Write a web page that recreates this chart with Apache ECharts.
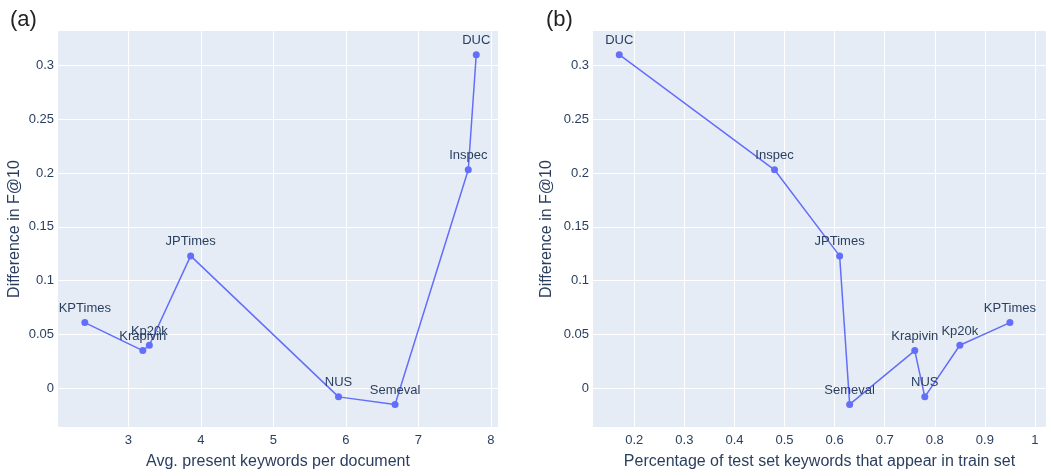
<!DOCTYPE html>
<html>
<head>
<meta charset="utf-8">
<script src="https://cdn.jsdelivr.net/npm/echarts@6/dist/echarts.min.js"></script>
<style>
html,body{margin:0;padding:0;background:#fff;}
#c{width:1051px;height:476px;}
</style>
</head>
<body>
<div id="c"></div>
<script>
// Data (sorted by percentage for panel b)
const datasets   = ['DUC', 'Inspec', 'JPTimes', 'Semeval', 'Krapivin', 'NUS', 'Kp20k', 'KPTimes'];
const diffF10    = [0.310, 0.203, 0.123, -0.015, 0.035, -0.008, 0.040, 0.061];
const avgPresent = [7.80, 7.69, 3.86, 6.68, 3.20, 5.90, 3.29, 2.40];
const pctInTrain = [0.17, 0.48, 0.61, 0.63, 0.76, 0.78, 0.85, 0.95];

const yTicks  = [0, 0.05, 0.1, 0.15, 0.2, 0.25, 0.3];
const xTicksA = [3, 4, 5, 6, 7, 8];
const xTicksB = [0.2, 0.3, 0.4, 0.5, 0.6, 0.7, 0.8, 0.9, 1];

const FONT = 'Liberation Sans, Arial, sans-serif';
const TXT = '#2a3f5f';
const LINE = '#636efa';

function pts(xs) {
  const arr = datasets.map((n, i) => ({ name: n, value: [xs[i], diffF10[i]] }));
  arr.sort((a, b) => a.value[0] - b.value[0]);
  return arr;
}
const fmt = v => String(Math.round(v * 1000) / 1000);

function xAxis(idx, min, max, ticks, name) {
  return {
    type: 'value', gridIndex: idx, min: min, max: max,
    name: name, nameLocation: 'middle', nameGap: 27,
    nameTextStyle: { color: TXT, fontSize: 16, fontFamily: FONT },
    axisLine: { show: false }, axisTick: { show: false, customValues: ticks },
    axisLabel: { customValues: ticks, color: TXT, fontSize: 13, fontFamily: FONT, margin: 7, formatter: fmt },
    splitLine: { show: true, lineStyle: { color: '#ffffff', width: 1 } }
  };
}
function yAxis(idx, gap) {
  return {
    type: 'value', gridIndex: idx, min: -0.036, max: 0.332,
    name: 'Difference in F@10', nameLocation: 'middle', nameGap: gap,
    nameTextStyle: { color: TXT, fontSize: 16, fontFamily: FONT },
    axisLine: { show: false }, axisTick: { show: false, customValues: yTicks },
    axisLabel: { customValues: yTicks, color: TXT, fontSize: 13, fontFamily: FONT, margin: 4, formatter: fmt },
    splitLine: { show: true, lineStyle: { color: '#ffffff', width: 1 } }
  };
}
function series(idx, data) {
  return {
    type: 'line', xAxisIndex: idx, yAxisIndex: idx, data: data,
    symbol: 'circle', symbolSize: 7, showSymbol: true,
    lineStyle: { color: LINE, width: 1.5 }, itemStyle: { color: LINE },
    label: { show: true, position: 'top', distance: 4, formatter: p => p.name,
             color: TXT, fontSize: 13, fontFamily: FONT },
    emphasis: { disabled: true }, animation: false
  };
}

const chart = echarts.init(document.getElementById('c'));
chart.setOption({
  backgroundColor: '#ffffff',
  animation: false,
  title: [
    { text: '(a)', left: 5, top: 4, textStyle: { color: '#222', fontSize: 22, fontWeight: 'normal', fontFamily: FONT } },
    { text: '(b)', left: 541, top: 4, textStyle: { color: '#222', fontSize: 22, fontWeight: 'normal', fontFamily: FONT } }
  ],
  grid: [
    { left: 58, right: 553, top: 31, bottom: 49, show: true, backgroundColor: '#E5ECF6', borderWidth: 0 },
    { left: 593, right: 5, top: 31, bottom: 49, show: true, backgroundColor: '#E5ECF6', borderWidth: 0 }
  ],
  xAxis: [
    xAxis(0, 2.03, 8.1, xTicksA, 'Avg. present keywords per document'),
    xAxis(1, 0.1176, 1.022, xTicksB, 'Percentage of test set keywords that appear in train set')
  ],
  yAxis: [yAxis(0, 35), yAxis(1, 38)],
  series: [series(0, pts(avgPresent)), series(1, pts(pctInTrain))]
});
</script>
</body>
</html>
